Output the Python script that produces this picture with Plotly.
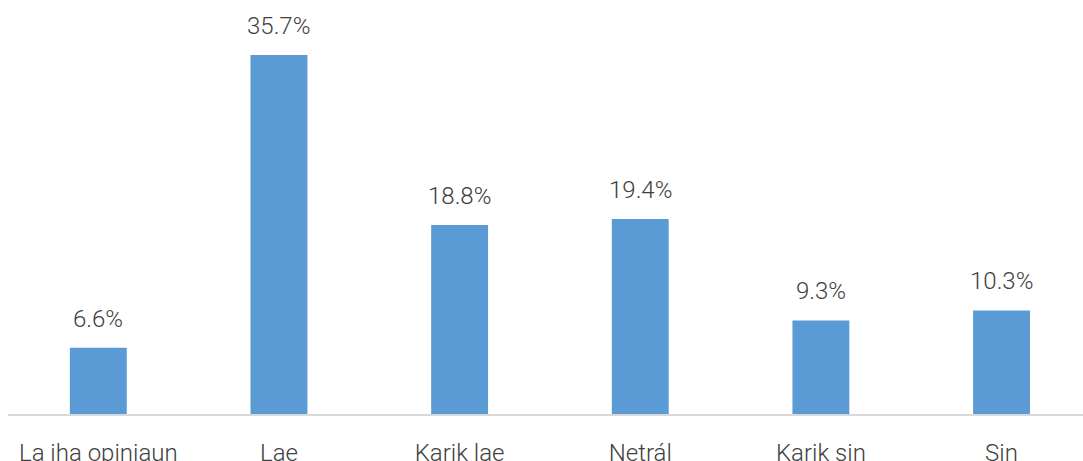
import plotly.graph_objects as go

categories = ["La iha opiniaun", "Lae", "Karik lae", "Netrál", "Karik sin", "Sin"]
values = [6.6, 35.7, 18.8, 19.4, 9.3, 10.3]
labels = [f"{v:.1f}%" for v in values]

FONT = "Roboto"

fig = go.Figure(go.Bar(
    x=categories, y=values,
    marker=dict(color="#5B9BD5", line=dict(width=0)),
    width=0.315,
))

for c, v, t in zip(categories, values, labels):
    fig.add_annotation(x=c, y=v, text=t, showarrow=False, yanchor="bottom",
                       yshift=13, font=dict(family=FONT, size=24, color="#404040", weight=300))

fig.update_layout(
    width=1083, height=461,
    margin=dict(l=8, r=0, t=0, b=47),
    paper_bgcolor="white", plot_bgcolor="white",
    showlegend=False,
    xaxis=dict(range=[-0.5, 5.451], showline=True, linecolor="#D9D9D9", linewidth=2,
               ticks="", showgrid=False, ticklabelstandoff=16, automargin=False,
               tickfont=dict(family=FONT, size=24, color="#404040", weight=300)),
    yaxis=dict(range=[0, 41.17], visible=False, showgrid=False, zeroline=False,
               automargin=False),
)

fig.write_html("out.html", config={"displayModeBar": False},
               post_script="document.body.style.margin='0';")
